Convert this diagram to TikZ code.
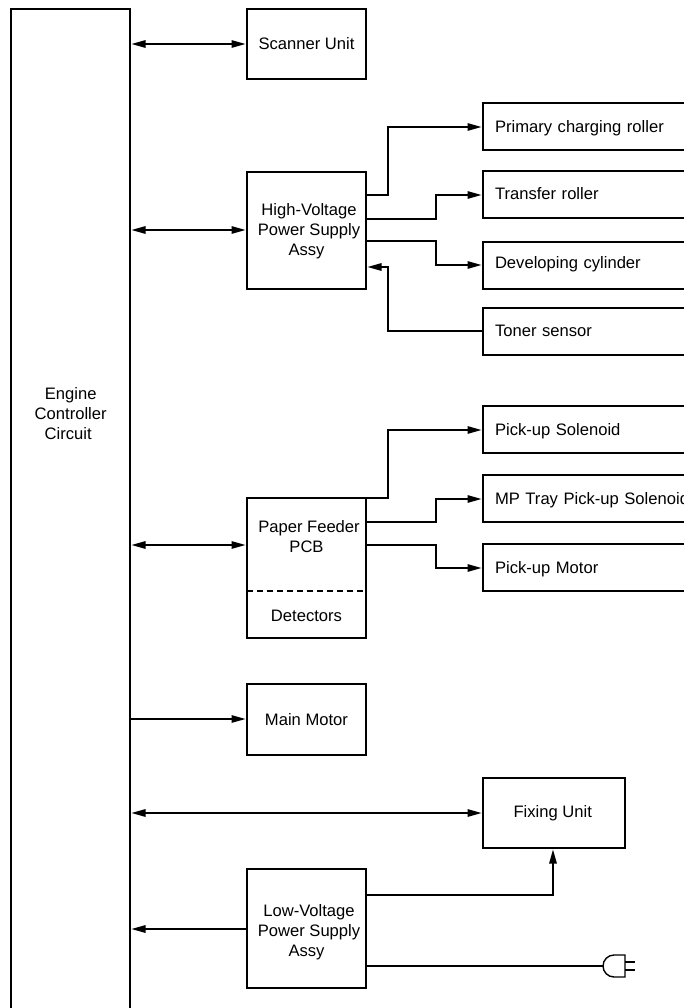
\documentclass[tikz,border=0pt]{standalone}
\usepackage{fontspec}
\setmainfont{Liberation Sans}
\usetikzlibrary{arrows.meta}
\tikzset{
  x=1pt,y=-1pt,
  lab/.style={font=\fontsize{16.6}{20}\selectfont,text=black},
  mlab/.style={lab,align=center,inner sep=0pt,anchor=base},
  box/.style={draw=black,line width=1.4pt,fill=white,inner sep=0pt,outer sep=0pt,align=center,lab},
  rbox/.style={box,minimum width=300pt,minimum height=47pt,text width=276pt,align=left,text height=#1,text depth=0pt},
  cbox/.style={box,minimum width=119pt},
  conn/.style={line width=1.4pt,draw=black},
  to/.style={conn,-{Stealth[length=14pt,width=7.5pt,inset=0pt]},shorten >=1.5pt},
  both/.style={conn,{Stealth[length=14pt,width=7.5pt,inset=0pt]}-{Stealth[length=14pt,width=7.5pt,inset=0pt]},shorten >=1.5pt,shorten <=1.5pt},
}
\begin{document}
\begin{tikzpicture}
\useasboundingbox (0,0) rectangle (684,1008);
\clip (0,0) rectangle (684,1008);
% left column
\node[box,minimum width=119pt,minimum height=1100pt] (ecc) at (70.5,559) {};
\node[mlab] (ecct) at (68.2,439.3) {\hspace*{5pt}Engine\\\hspace*{5pt}Controller\\Circuit};
% middle column
\node[cbox,minimum height=70pt,text height=10.6pt,text depth=0pt] (scan) at (306.5,44) {Scanner Unit};
\node[cbox,minimum height=117pt] (hv) at (306.5,230.5) {};
\node[mlab] (hvt) at (306.5,255.7) {\hspace*{5pt}High-Voltage\\\hspace*{5pt}Power Supply\\Assy};
\node[cbox,minimum height=140pt] (pf) at (306.5,568) {};
\node[mlab] (pft) at (306.5,552.7) {\hspace*{5pt}Paper Feeder\\PCB};
\node[mlab] (det) at (306.5,621.7) {Detectors};
\coordinate (dl) at (247,591);
\coordinate (dr) at (366,591);
\draw[line width=1.4pt,dash pattern=on 5.5pt off 4.5pt] (dl) -- (dr);
\node[cbox,minimum height=71pt,text height=11.6pt,text depth=0pt] (mm) at (306.5,719.5) {Main Motor};
\node[cbox,minimum height=119pt] (lv) at (306.5,928.5) {};
\node[mlab] (lvt) at (306.5,956) {\hspace*{5pt}Low-Voltage\\\hspace*{5pt}Power Supply\\Assy};
% right column
\node[rbox=11.6pt] (pcr) at (633,126.5) {Primary charging roller};
\node[rbox=11pt] (tr) at (633,194.5) {Transfer roller};
\node[rbox=5.6pt] (dc) at (633,265.5) {Developing cylinder};
\node[rbox=10.4pt] (ts) at (633,331.5) {Toner sensor};
\node[rbox=11pt] (ps) at (633,429.5) {Pick-up Solenoid};
\node[rbox=11pt] (mp) at (633,498.5) {MP Tray Pick-up Solenoid};
\node[rbox=11.6pt] (pm) at (633,567.5) {Pick-up Motor};
\node[box,minimum width=142pt,minimum height=70pt,text height=9.4pt,text depth=0pt] (fx) at (554,813) {Fixing Unit\hspace*{2.6pt}};
\coordinate (fxin) at (553,848);
% plug
\coordinate (plug) at (603,966);
\draw[line width=1.4pt] (625,955) -- (614,955) arc[start angle=90,end angle=270,x radius=11,y radius=-11] -- (625,977) -- cycle;
\draw[line width=1.4pt] (625,962) -- (635,962) (625,970) -- (635,970);
% connectors
\draw[both] (ecc.east |- scan.west) -- (scan.west);
\draw[both] (ecc.east |- 0,230) -- (hv.west |- 0,230);
\draw[both] (ecc.east |- 0,545) -- (pf.west |- 0,545);
\draw[to] (ecc.east |- 0,719) -- (mm.west |- 0,719);
\draw[both] (ecc.east |- fx.west) -- (fx.west);
\draw[to] (lv.west |- 0,929) -- (ecc.east |- 0,929);
\draw[to] (hv.east |- 0,195) -- (388,195) |- (pcr.west |- 0,127);
\draw[to] (hv.east |- 0,219) -- (436,219) |- (tr.west |- 0,195);
\draw[to] (hv.east |- 0,241) -- (436,241) |- (dc.west |- 0,265);
\draw[to] (ts.west |- 0,331) -- (388,331) |- (hv.east |- 0,267);
\draw[to] (pf.east |- 0,498) -- (388,498) |- (ps.west |- 0,430);
\draw[to] (pf.east |- 0,522) -- (436,522) |- (mp.west |- 0,499);
\draw[to] (pf.east |- 0,545) -- (436,545) |- (pm.west |- 0,568);
\draw[to] (lv.east |- 0,895) -| (fxin);
\draw[conn] (lv.east |- 0,966) -- (plug);
\end{tikzpicture}
\end{document}
